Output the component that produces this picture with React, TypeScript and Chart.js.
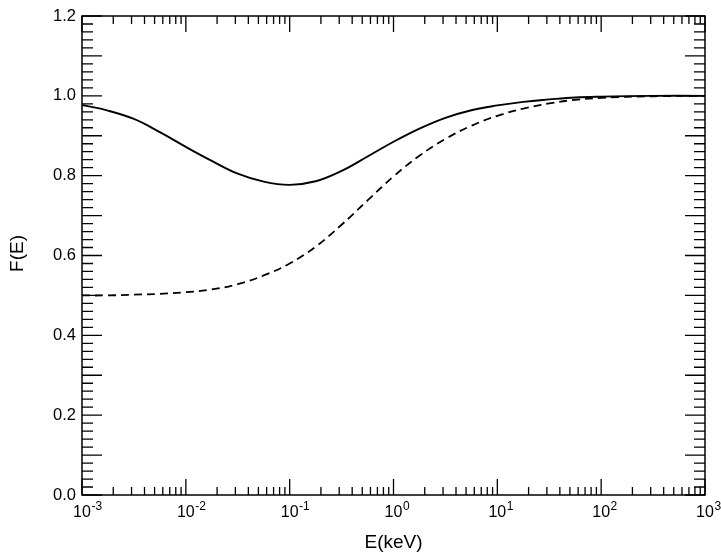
import React, { useEffect, useRef } from "react";
import { Chart, registerables } from "chart.js";

Chart.register(...registerables);

// log10(E) sample positions (E in keV)
const logEnergies = [-3, -2.75, -2.5, -2.25, -2, -1.75, -1.5, -1.25, -1, -0.75, -0.5, -0.25, 0, 0.25, 0.5, 0.75, 1, 1.25, 1.5, 1.75, 2, 2.5, 3];
const solidValues = [0.977, 0.963, 0.942, 0.909, 0.872, 0.837, 0.805, 0.785, 0.777, 0.786, 0.812, 0.848, 0.885, 0.918, 0.945, 0.964, 0.976, 0.985, 0.991, 0.996, 0.998, 1.0, 1.0];
const dashedValues = [0.500, 0.500, 0.502, 0.504, 0.508, 0.515, 0.528, 0.550, 0.580, 0.622, 0.677, 0.738, 0.798, 0.850, 0.892, 0.925, 0.950, 0.968, 0.981, 0.990, 0.995, 0.999, 1.0];
const yTickValues = [0, 0.2, 0.4, 0.6, 0.8, 1.0, 1.2];
const xDecadeExponents = [-3, -2, -1, 0, 1, 2, 3];
const xTitle = "E(keV)";
const yTitle = "F(E)";

const FONT = "'Liberation Sans', Arial, Helvetica, sans-serif";

const framePlugin = {
  id: "framePlugin",
  afterDraw(chart: any) {
    const { ctx, chartArea, scales } = chart;
    const xs = scales.x;
    const ys = scales.y;
    const { left, right, top, bottom } = chartArea;
    ctx.save();
    ctx.strokeStyle = "#000";
    ctx.lineWidth = 1.5;
    ctx.strokeRect(left, top, right - left, bottom - top);
    ctx.lineWidth = 1.3;
    for (let i = 0; i <= 60; i++) {
      const v = i * 0.02;
      const y = ys.getPixelForValue(v);
      const len = i % 5 === 0 ? 20 : 11;
      ctx.beginPath();
      ctx.moveTo(left, y);
      ctx.lineTo(left + len, y);
      ctx.moveTo(right, y);
      ctx.lineTo(right - len, y);
      ctx.stroke();
    }
    for (const d of xDecadeExponents) {
      for (let m = 1; m <= 9; m++) {
        if (d === 3 && m > 1) break;
        const v = m * Math.pow(10, d);
        const x = xs.getPixelForValue(v);
        const len = m === 1 ? 16 : 8;
        ctx.beginPath();
        ctx.moveTo(x, bottom);
        ctx.lineTo(x, bottom - len);
        ctx.moveTo(x, top);
        ctx.lineTo(x, top + len);
        ctx.stroke();
      }
    }
    ctx.fillStyle = "#000";
    ctx.textBaseline = "alphabetic";
    for (const d of xDecadeExponents) {
      const x = xs.getPixelForValue(Math.pow(10, d));
      ctx.font = `16px ${FONT}`;
      ctx.textAlign = "center";
      ctx.fillText("10", x, 517);
      const w = ctx.measureText("10").width;
      ctx.font = `12px ${FONT}`;
      ctx.textAlign = "left";
      const exp = d < 0 ? "-" + Math.abs(d) : String(d);
      ctx.fillText(exp, x + w / 2 + 0.5, 510);
    }
    ctx.font = `19px ${FONT}`;
    ctx.textAlign = "center";
    ctx.fillText(xTitle, (left + right) / 2, 548);
    ctx.translate(18, (top + bottom) / 2 - 2);
    ctx.rotate(-Math.PI / 2);
    ctx.textBaseline = "middle";
    ctx.fillText(yTitle, 0, 0);
    ctx.restore();
  },
};

export default function App() {
  const ref = useRef<HTMLCanvasElement>(null);
  useEffect(() => {
    if (!ref.current) return;
    const chart = new Chart(ref.current, {
      type: "line",
      data: {
        datasets: [
          {
            label: "solid",
            data: logEnergies.map((l, i) => ({ x: Math.pow(10, l), y: solidValues[i] })),
            borderColor: "#000",
            borderWidth: 1.9,
            pointRadius: 0,
            fill: false,
            tension: 0.4,
          },
          {
            label: "dashed",
            data: logEnergies.map((l, i) => ({ x: Math.pow(10, l), y: dashedValues[i] })),
            borderColor: "#000",
            borderWidth: 1.8,
            borderDash: [8, 5],
            pointRadius: 0,
            fill: false,
            tension: 0.4,
          },
        ],
      },
      options: {
        animation: false,
        responsive: false,
        devicePixelRatio: 1,
        layout: { padding: { top: 16, right: 16, left: 0, bottom: 0 } },
        plugins: { legend: { display: false }, tooltip: { enabled: false } },
        scales: {
          x: {
            type: "logarithmic",
            min: 1e-3,
            max: 1e3,
            ticks: { display: false },
            grid: { display: false, drawTicks: false },
            border: { display: false },
            afterFit: (s: any) => {
              s.height = 57;
            },
          },
          y: {
            type: "linear",
            min: 0,
            max: 1.2,
            afterBuildTicks: (s: any) => {
              s.ticks = yTickValues.map((v) => ({ value: v }));
            },
            ticks: {
              color: "#000",
              padding: 6,
              font: { family: FONT, size: 16.5 },
              callback: (v: any) => Number(v).toFixed(1),
            },
            grid: { display: false, drawTicks: false },
            border: { display: false },
            afterFit: (s: any) => {
              s.width = 82;
            },
          },
        },
      },
      plugins: [framePlugin],
    });
    return () => chart.destroy();
  }, []);
  return (
    <div style={{ position: "absolute", left: 0, top: 0, width: 721, height: 552, background: "#fff" }}>
      <canvas ref={ref} width={721} height={552} />
    </div>
  );
}
